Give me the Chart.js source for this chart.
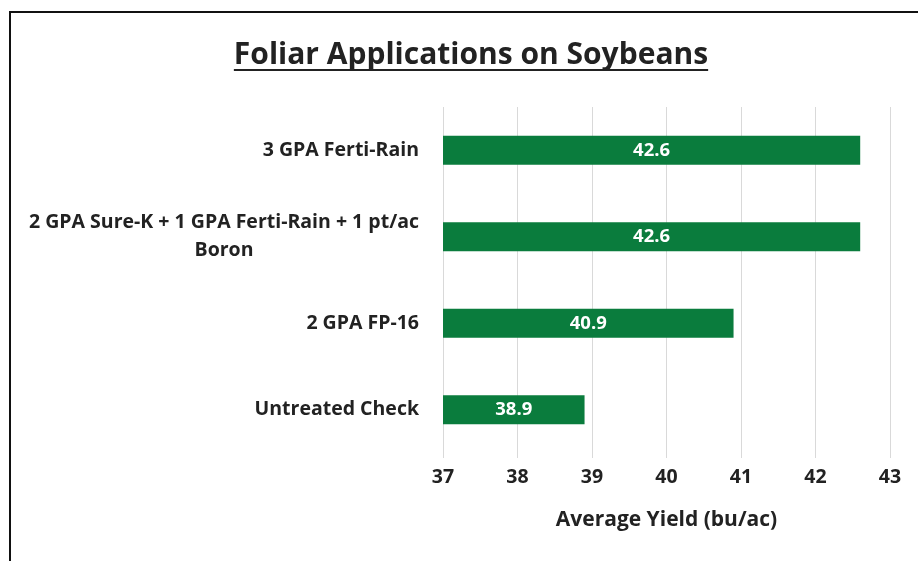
<!DOCTYPE html>
<html>
<head>
<meta charset="utf-8">
<script src="https://cdn.jsdelivr.net/npm/chart.js@4/dist/chart.umd.min.js"></script>
<style>
html,body{margin:0;padding:0;background:#fff;}
#wrap{position:relative;width:918px;height:561px;}
</style>
</head>
<body>
<div id="wrap"><canvas id="c" width="918" height="561"></canvas></div>
<script>
// ---- data ----
const chartTitle = 'Foliar Applications on Soybeans';
const categories = [
  ['3 GPA Ferti-Rain'],
  ['2 GPA Sure-K + 1 GPA Ferti-Rain + 1 pt/ac', 'Boron'],
  ['2 GPA FP-16'],
  ['Untreated Check']
];
const yieldValues = [42.6, 42.6, 40.9, 38.9];
const valueLabels = ['42.6', '42.6', '40.9', '38.9'];
const xTicks = [37, 38, 39, 40, 41, 42, 43];
const xAxisTitle = 'Average Yield (bu/ac)';

const FONT = '"Open Sans", Lato, sans-serif';
const TEXT = '#222222';
const GREEN = '#0a7c3d';

const framePlugin = {
  id: 'frame',
  beforeDraw(chart) {
    const ctx = chart.ctx;
    ctx.save();
    ctx.fillStyle = '#fff';
    ctx.fillRect(0, 0, chart.width, chart.height);
    ctx.fillStyle = '#111';
    ctx.fillRect(9, 11, chart.width - 9, 2);
    ctx.fillRect(9, 11, 2, chart.height - 11);
    ctx.restore();
  },
  afterDraw(chart) {
    const ctx = chart.ctx;
    ctx.save();
    // title with underline
    ctx.font = 'bold 30px ' + FONT;
    ctx.fillStyle = TEXT;
    ctx.textAlign = 'center';
    ctx.textBaseline = 'alphabetic';
    const tx = 471, ty = 64;
    ctx.fillText(chartTitle, tx, ty);
    const w = ctx.measureText(chartTitle).width;
    ctx.fillRect(tx - w / 2, ty + 5, w, 2);

    // category labels
    const ys = chart.scales.y;
    ctx.font = 'bold 19.5px ' + FONT;
    ctx.textBaseline = 'middle';
    const right = 419, lh = 28;
    categories.forEach((lines, i) => {
      const cy = ys.getPixelForTick(i);
      const widths = lines.map(l => ctx.measureText(l).width);
      const maxW = Math.max(...widths);
      const cx = right - maxW / 2;
      ctx.textAlign = 'center';
      lines.forEach((l, j) => {
        const yy = cy + (j - (lines.length - 1) / 2) * lh;
        ctx.fillText(l, cx, yy);
      });
    });

    // value labels inside bars
    const xs = chart.scales.x;
    const meta = chart.getDatasetMeta(0);
    ctx.font = 'bold 18.5px ' + FONT;
    ctx.fillStyle = '#ffffff';
    ctx.textAlign = 'center';
    meta.data.forEach((bar, i) => {
      const x0 = xs.getPixelForValue(xs.min);
      ctx.fillText(valueLabels[i], (x0 + bar.x) / 2, bar.y);
    });
    ctx.restore();
  }
};

new Chart(document.getElementById('c'), {
  type: 'bar',
  data: {
    labels: categories.map(c => c.join(' ')),
    datasets: [{
      data: yieldValues,
      backgroundColor: GREEN,
      borderWidth: 0,
      categoryPercentage: 1,
      barPercentage: 0.335
    }]
  },
  options: {
    indexAxis: 'y',
    responsive: false,
    animation: false,
    events: [],
    layout: { padding: { top: 107, right: 28, bottom: 0, left: 0 } },
    plugins: { legend: { display: false }, title: { display: false }, tooltip: { enabled: false } },
    scales: {
      x: {
        type: 'linear',
        min: xTicks[0],
        max: xTicks[xTicks.length - 1],
        afterBuildTicks(scale) { scale.ticks = xTicks.map(v => ({ value: v })); },
        afterFit(scale) { scale.height = 108; },
        grid: { color: '#d9d9d9', lineWidth: 1, drawTicks: true, tickLength: 5, tickColor: '#d9d9d9' },
        border: { display: false },
        ticks: { color: TEXT, font: { family: FONT, size: 19.5, weight: 'bold' }, padding: 8, maxRotation: 0 },
        title: { display: true, text: xAxisTitle, color: TEXT, font: { family: FONT, size: 21, weight: 'bold' }, padding: { top: 0, bottom: 28 } }
      },
      y: {
        afterFit(scale) { scale.width = 443; },
        grid: { display: false },
        border: { display: false },
        ticks: { display: false }
      }
    }
  },
  plugins: [framePlugin]
});
</script>
</body>
</html>
